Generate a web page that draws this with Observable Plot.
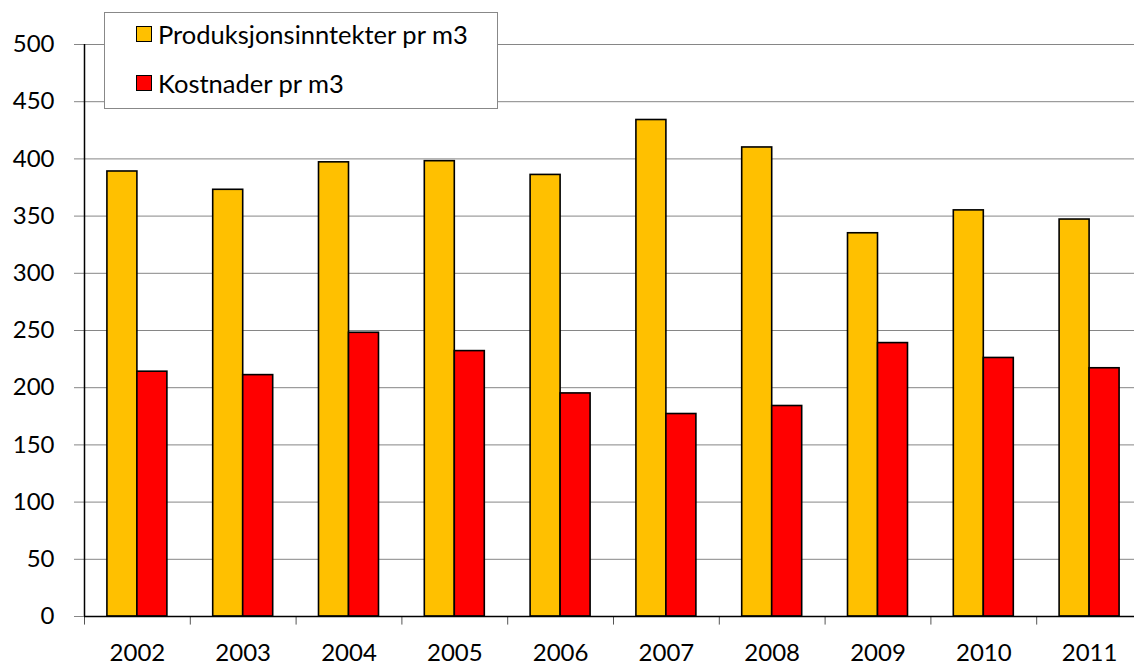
<!DOCTYPE html>
<html>
<head>
<meta charset="utf-8">
<script src="https://cdn.jsdelivr.net/npm/d3@7"></script>
<script src="https://cdn.jsdelivr.net/npm/@observablehq/plot@0.6"></script>
<style>
  html, body { margin: 0; padding: 0; background: white; overflow: hidden; }
  #wrap { position: relative; width: 1134px; height: 666px; overflow: hidden; font-family: Lato, sans-serif; }
  #legend { position: absolute; left: 104px; top: 12px; width: 394px; height: 97px; border: 1px solid #888; background: white; box-sizing: border-box; }
  .item { position: absolute; left: 31px; display: flex; align-items: center; font-size: 25.5px; color: #000; height: 30px; }
  .sw { width: 16px; height: 16px; box-sizing: border-box; border: 1.5px solid #000; margin-right: 6px; }
</style>
</head>
<body>
<div id="wrap"></div>
<script>
const years = ["2002","2003","2004","2005","2006","2007","2008","2009","2010","2011"];
const produksjon = [389, 373, 397, 398, 386, 434, 410, 335, 355, 347];
const kostnader = [214, 211, 248, 232, 195, 177, 184, 239, 226, 217];
const seriesNames = ["Produksjonsinntekter pr m3", "Kostnader pr m3"];
const seriesColors = ["#FFC000", "#FF0000"];
const yTicks = [0, 50, 100, 150, 200, 250, 300, 350, 400, 450, 500];

const barW = 0.2835;
const data = years.flatMap((yr, i) => [
  {year: yr, series: seriesNames[0], value: produksjon[i], x1: i + 0.5 - barW, x2: i + 0.5},
  {year: yr, series: seriesNames[1], value: kostnader[i], x1: i + 0.5, x2: i + 0.5 + barW}
]);

const chart = Plot.plot({
  width: 1142,
  height: 666,
  marginLeft: 84,
  marginRight: 0,
  marginTop: 44,
  marginBottom: 50,
  style: {fontFamily: "Lato, sans-serif", fontSize: "24px", maxWidth: "none", background: "white", color: "black", overflow: "visible"},
  x: {type: "linear", domain: [0, years.length], ticks: years.map((d, i) => i + 0.5), tickFormat: d => years[Math.floor(d)], tickSize: 0, tickPadding: 27, label: null},
  y: {domain: [0, 500], ticks: yTicks, tickSize: 10, tickPadding: 20, label: null, tickFormat: d => String(d)},
  color: {domain: seriesNames, range: seriesColors},
  marks: [
    Plot.ruleY(yTicks.filter(d => d > 0), {stroke: "#868686", strokeWidth: 1}),
    Plot.rectY(data, {x1: "x1", x2: "x2", y1: 0, y2: "value", fill: "series", stroke: "black", strokeWidth: 1.6}),
    Plot.ruleX(d3.range(0, years.length + 1), {y1: 0, y2: -7.5, stroke: "#555", strokeWidth: 1}),
    Plot.ruleX([0], {stroke: "black", strokeWidth: 1.5}),
    Plot.ruleY([0], {stroke: "black", strokeWidth: 1.5})
  ]
});

d3.select(chart).selectAll('[aria-label^="y-axis"] line, [aria-label="y-axis tick"] path').attr("stroke", "#868686");

const wrap = document.getElementById("wrap");
wrap.appendChild(chart);

const legend = document.createElement("div");
legend.id = "legend";
seriesNames.forEach((name, k) => {
  const item = document.createElement("div");
  item.className = "item";
  item.style.top = (k === 0 ? 6 : 55) + "px";
  const sw = document.createElement("div");
  sw.className = "sw";
  sw.style.background = seriesColors[k];
  const label = document.createElement("span");
  label.textContent = name;
  item.appendChild(sw);
  item.appendChild(label);
  legend.appendChild(item);
});
wrap.appendChild(legend);
</script>
</body>
</html>
